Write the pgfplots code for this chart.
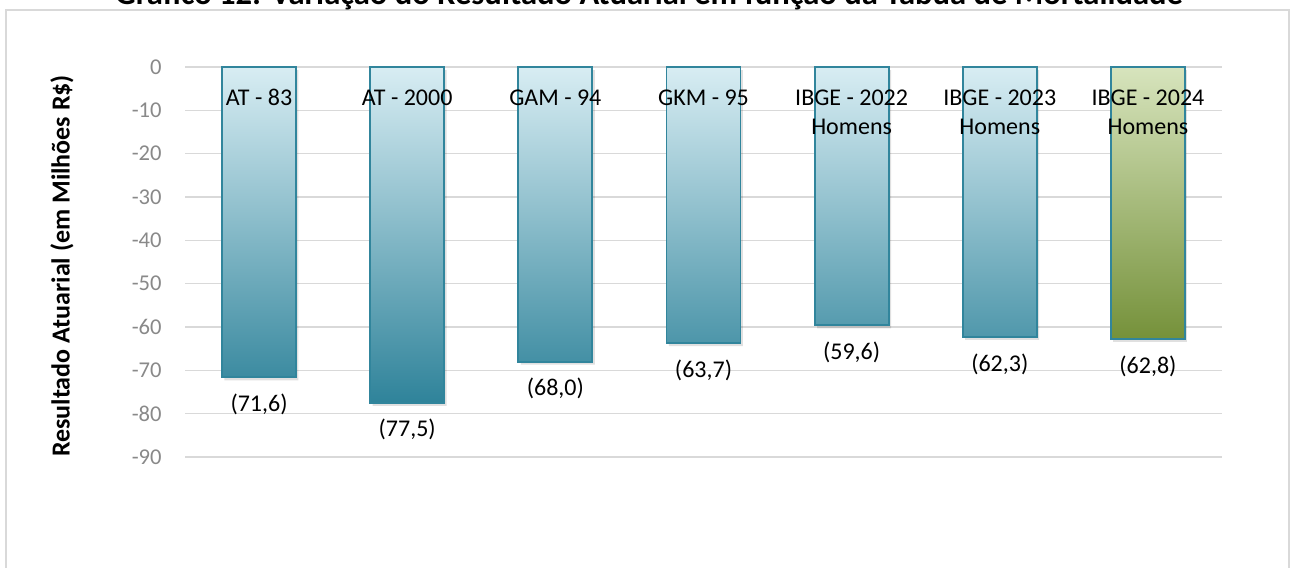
\documentclass[border=0pt]{standalone}
\usepackage{fontspec}
\setmainfont{Carlito}
\usepackage{pgfplots}
\usepackage{pgfplotstable}
\pgfplotsset{compat=1.18}
\definecolor{bluetop}{RGB}{216,237,243}
\definecolor{bluemid}{RGB}{108,176,197}
\definecolor{bluebot}{RGB}{47,131,154}
\definecolor{greentop}{RGB}{215,228,189}
\definecolor{greenmid}{RGB}{162,186,110}
\definecolor{greenbot}{RGB}{117,145,58}
\definecolor{barborder}{RGB}{49,133,156}
\definecolor{ticklab}{RGB}{137,137,137}

\pgfplotstableread{
x y lab
0 -71.6 (71,6)
1 -77.5 (77,5)
2 -68.0 (68,0)
3 -63.7 (63,7)
4 -59.6 (59,6)
5 -62.3 (62,3)
}\bluedata
\pgfplotstableread{
x y lab
6 -62.8 (62,8)
}\greendata

\begin{document}
\begin{tikzpicture}
\useasboundingbox (0,0) rectangle (646.5pt,283.5pt);
\clip (0,0) rectangle (646.5pt,283.5pt);
% outer frame
\draw[color=black!15, line width=0.8pt] (3pt,-5pt) -- (3pt,278.5pt) -- (644.5pt,278.5pt) -- (644.5pt,-5pt);
% title (cut off at top, as in the reference)
\node[font=\bfseries\fontsize{16.3}{19}\selectfont, anchor=base, inner sep=0pt] at (324.5pt,281pt)
  {Gráfico 12: Variação do Resultado Atuarial em função da Tábua de Mortalidade};
% y label
\node[rotate=90, font=\bfseries\fontsize{13}{15}\selectfont] at (31pt,150.5pt)
  {Resultado Atuarial (em Milhões R\$)};
\begin{axis}[
  at={(92.5pt,55pt)}, anchor=south west,
  width=518.5pt, height=195pt, scale only axis,
  xmin=-0.5, xmax=6.5, ymin=-90, ymax=0,
  xtick=\empty,
  ytick={-90,-80,-70,-60,-50,-40,-30,-20,-10,0},
  yticklabels={-90,-80,-70,-60,-50,-40,-30,-20,-10,0},
  /pgf/number format/assume math mode=true,
  axis line style={draw=none},
  major tick length=0pt,
  ymajorgrids,
  grid style={line width=0.75pt, color=black!15},
  yticklabel style={font=\fontsize{11.3}{13}\selectfont, color=ticklab, inner sep=0pt, anchor=east, xshift=-11.5pt},
  clip=false,
]
% shadows
\addplot[ybar, bar width=37pt, bar shift=0pt, draw=none, fill=black, fill opacity=0.12, xshift=1.2pt, yshift=-1.5pt]
  table[x=x, y=y] {\bluedata};
\addplot[ybar, bar width=37pt, bar shift=0pt, draw=none, fill=black, fill opacity=0.12, xshift=1.2pt, yshift=-1.5pt]
  table[x=x, y=y] {\greendata};
% bars
\addplot[ybar, bar width=37pt, bar shift=0pt, draw=barborder, line width=0.9pt,
  top color=bluetop, middle color=bluemid, bottom color=bluebot,
  point meta=explicit symbolic, nodes near coords,
  every node near coord/.append style={font=\fontsize{12}{14}\selectfont, color=black, anchor=north, yshift=-4.5pt}]
  table[x=x, y=y, meta=lab] {\bluedata};
\addplot[ybar, bar width=37pt, bar shift=0pt, draw=barborder, line width=0.9pt,
  top color=greentop, middle color=greenmid, bottom color=greenbot,
  point meta=explicit symbolic, nodes near coords,
  every node near coord/.append style={font=\fontsize{12}{14}\selectfont, color=black, anchor=north, yshift=-4.5pt}]
  table[x=x, y=y, meta=lab] {\greendata};
% category labels
\begin{scope}[every node/.style={font=\fontsize{12}{14}\selectfont, anchor=base, inner sep=0pt}]
\node at (axis cs:0,-8.88) {AT - 83};
\node at (axis cs:1,-8.88) {AT - 2000};
\node at (axis cs:2,-8.88) {GAM - 94};
\node at (axis cs:3,-8.88) {GKM - 95};
\node at (axis cs:4,-8.88) {IBGE - 2022};
\node at (axis cs:4,-15.58) {Homens};
\node at (axis cs:5,-8.88) {IBGE - 2023};
\node at (axis cs:5,-15.58) {Homens};
\node at (axis cs:6,-8.88) {IBGE - 2024};
\node at (axis cs:6,-15.58) {Homens};
\end{scope}
\end{axis}
\end{tikzpicture}
\end{document}
